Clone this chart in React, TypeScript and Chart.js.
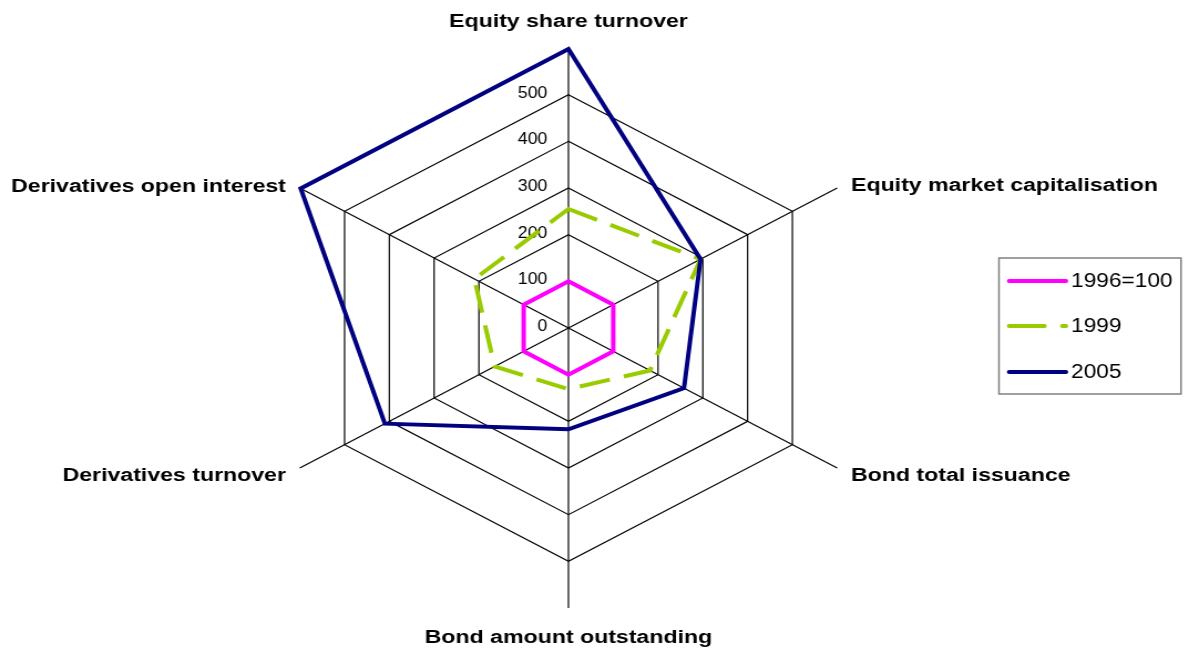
import React, { useEffect, useRef } from "react";
import { Chart, registerables } from "chart.js";

Chart.register(...registerables);

const CATEGORIES = [
  "Equity share turnover",
  "Equity market capitalisation",
  "Bond total issuance",
  "Bond amount outstanding",
  "Derivatives turnover",
  "Derivatives open interest",
];
const SERIES_LABELS = ["1996=100", "1999", "2005"];
const SERIES_1996 = [100, 100, 100, 100, 100, 100];
const SERIES_1999 = [255, 295, 182, 131, 165, 210];
const SERIES_2005 = [598, 295, 258, 217, 410, 598];
const SERIES_COLORS = ["#FF00FF", "#99CC00", "#000080"];
const AXIS_MAX = 600;
const AXIS_STEP = 100;
const GRID_MAX = 500;

const FONT = '"Liberation Sans", Arial, sans-serif';

const tickLabelPlugin = {
  id: "tickLabelPlugin",
  beforeDatasetsDraw(chart: any) {
    const s = chart.scales.r;
    const ctx = chart.ctx;
    ctx.save();
    ctx.font = `16px ${FONT}`;
    ctx.fillStyle = "#000";
    ctx.textAlign = "right";
    ctx.textBaseline = "middle";
    s.ticks.forEach((t: any) => {
      if (t.value > GRID_MAX) return;
      const d = s.getDistanceFromCenterForValue(t.value);
      ctx.fillText(String(t.value), s.xCenter - 19, s.yCenter - d - 1.5);
    });
    ctx.restore();
  },
};

const pointLabelPlugin = {
  id: "pointLabelPlugin",
  afterDraw(chart: any) {
    const s = chart.scales.r;
    const ctx = chart.ctx;
    const labels: string[] = chart.data.labels;
    ctx.save();
    ctx.font = `bold 18.8px ${FONT}`;
    ctx.fillStyle = "#000";
    ctx.textBaseline = "middle";
    labels.forEach((lab, i) => {
      const p = s.getPointPosition(i, s.drawingArea);
      const dx = p.x - s.xCenter;
      const upper = p.y < s.yCenter;
      let x = p.x;
      let y = p.y;
      let align: CanvasTextAlign = "center";
      if (Math.abs(dx) < 1) {
        y += upper ? -26 : 30;
      } else if (dx > 0) {
        align = "left";
        x += 12.5;
        y += upper ? -2 : 8;
      } else {
        align = "right";
        x -= 12.5;
        y += upper ? -1 : 8;
      }
      ctx.save();
      ctx.translate(x, y);
      ctx.scale(1.11, 1);
      ctx.textAlign = align;
      ctx.fillText(lab, 0, 0);
      ctx.restore();
    });
    ctx.restore();
  },
};

const legendPlugin = {
  id: "boxLegendPlugin",
  afterDraw(chart: any) {
    const ctx = chart.ctx;
    const boxL = 901.5, boxR = 1065.8, boxT = 258, boxB = 394;
    const rows = [281, 326, 372];
    const lineX0 = 910.6, lineX1 = 962, textX = 966.5;
    ctx.save();
    ctx.strokeStyle = "#808080";
    ctx.lineWidth = 1.5;
    ctx.strokeRect(boxL, boxT, boxR - boxL, boxB - boxT);
    chart.data.datasets.forEach((ds: any, i: number) => {
      const y = rows[i];
      ctx.save();
      ctx.strokeStyle = ds.borderColor;
      ctx.lineWidth = 4;
      ctx.lineCap = "round";
      if (ds.borderDash && ds.borderDash.length) ctx.setLineDash([32, 16]);
      ctx.beginPath();
      ctx.moveTo(lineX0, y);
      ctx.lineTo(lineX1, y);
      ctx.stroke();
      ctx.restore();
      ctx.save();
      ctx.font = `19.5px ${FONT}`;
      ctx.fillStyle = "#000";
      ctx.textAlign = "left";
      ctx.textBaseline = "middle";
      ctx.translate(textX, y + 1);
      ctx.scale(1.05, 1);
      ctx.fillText(ds.label, 0, 0);
      ctx.restore();
    });
    ctx.restore();
  },
};

export default function App() {
  const ref = useRef<HTMLCanvasElement>(null);

  useEffect(() => {
    if (!ref.current) return;
    const mk = (i: number, data: number[], dash: number[], order: number) => ({
      label: SERIES_LABELS[i],
      data,
      borderColor: SERIES_COLORS[i],
      backgroundColor: "rgba(0,0,0,0)",
      borderWidth: 4,
      borderDash: dash,
      borderJoinStyle: "miter" as const,
      pointRadius: 0,
      pointHoverRadius: 0,
      fill: false,
      tension: 0,
      order,
    });
    const chart = new Chart(ref.current, {
      type: "radar",
      data: {
        labels: CATEGORIES,
        datasets: [
          mk(0, SERIES_1996, [], 3),
          mk(1, SERIES_1999, [28, 13], 2),
          mk(2, SERIES_2005, [], 1),
        ],
      },
      options: {
        responsive: false,
        animation: false,
        devicePixelRatio: 1,
        layout: { padding: { left: 233, right: 280, top: 48, bottom: 43 } },
        plugins: {
          legend: { display: false },
          tooltip: { enabled: false },
        },
        scales: {
          r: {
            min: 0,
            max: AXIS_MAX,
            ticks: { display: false, stepSize: AXIS_STEP },
            grid: {
              color: (c: any) =>
                c.tick && c.tick.value > GRID_MAX ? "rgba(0,0,0,0)" : "#000",
              lineWidth: 1.2,
            },
            angleLines: { color: "#000", lineWidth: 1.2 },
            pointLabels: { display: false },
          },
        },
      },
      plugins: [tickLabelPlugin, pointLabelPlugin, legendPlugin],
    } as any);
    return () => chart.destroy();
  }, []);

  return (
    <div
      style={{
        position: "fixed",
        left: 0,
        top: 0,
        width: 1189,
        height: 651,
        background: "#fff",
      }}
    >
      <canvas
        ref={ref}
        width={1073}
        height={651}
        style={{ width: "1189px", height: "651px", display: "block" }}
      />
    </div>
  );
}
